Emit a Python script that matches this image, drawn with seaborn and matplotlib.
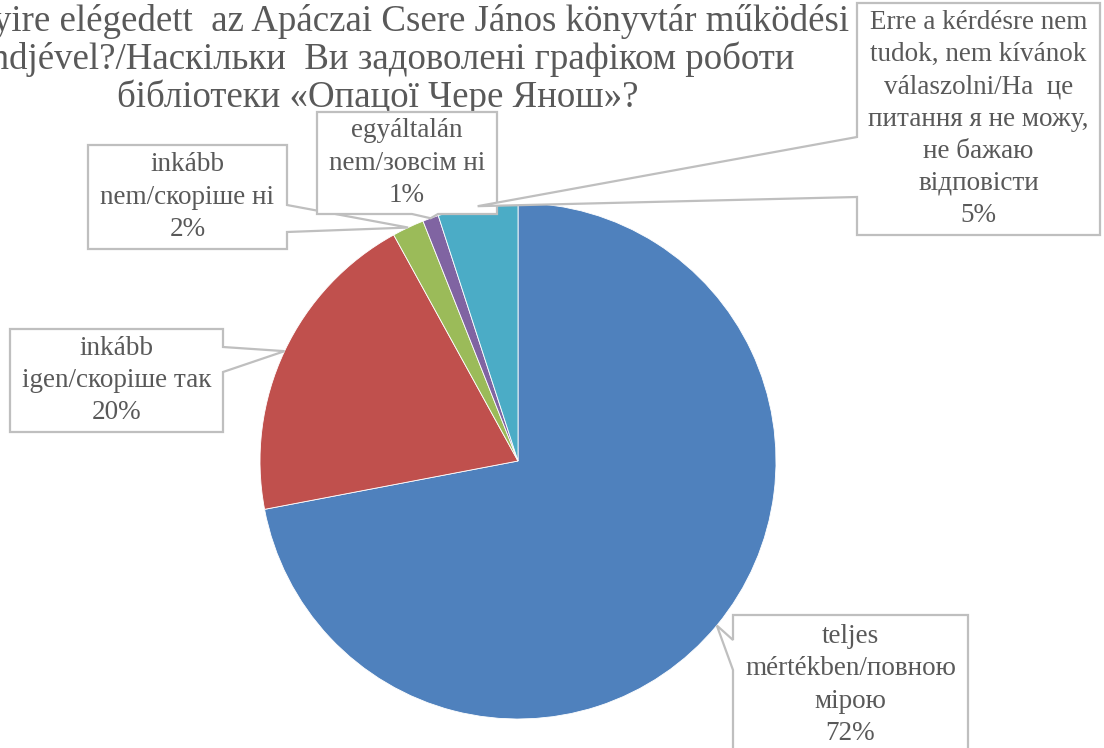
import numpy as np
import matplotlib
matplotlib.use("Agg")
import matplotlib.pyplot as plt
import matplotlib.patches as patches
import seaborn as sns

# chart content
title_lines = [
    "Mennyire elégedett  az Apáczai Csere János könyvtár működési",
    "rendjével?/Наскільки  Ви задоволені графіком роботи",
    "бібліотеки «Опацої Чере Янош»?",
]
answers = [
    "teljes\nmértékben/повною\nмірою",
    "inkább\nigen/скоріше так",
    "inkább\nnem/скоріше ні",
    "egyáltalán\nnem/зовсім ні",
    "Erre a kérdésre nem\ntudok, nem kívánok\nválaszolni/На  це\nпитання я не можу,\nне бажаю\nвідповісти",
]
shares = [72, 20, 2, 1, 5]
slice_colors = ["#4F81BD", "#C0504D", "#9BBB59", "#8064A2", "#4BACC6"]

W, H = 1104, 748
TEXT = "#595959"
EDGE = "#BFBFBF"

# callout layout in pixels from the top-left: box, side of the pointer, pointer base
callouts = [
    ((733, 615, 968, 755), "left", (640, 670)),
    ((10, 329, 223, 432), "right", (347, 372)),
    ((88, 145, 287, 249), "right", (205, 232)),
    ((317, 112, 497, 214), "bottom", (412, 438)),
    ((857, 3, 1100, 235), "left", (137, 197)),
]
title_baselines = [31, 69, 107]

sns.set_style("white")
plt.rcParams["font.family"] = ["Liberation Serif", "DejaVu Serif"]

fig = plt.figure(figsize=(W / 100, H / 100), dpi=100)

# pie: center (518, 461) px, radius 258 px
cx, cy, r = 518, 461, 258
ax = fig.add_axes([(cx - r) / W, (H - cy - r) / H, 2 * r / W, 2 * r / H])
ax.pie(shares, colors=sns.color_palette(slice_colors), startangle=90,
       counterclock=False, radius=1,
       wedgeprops=dict(edgecolor="white", linewidth=0.6))
ax.set_xlim(-1, 1)
ax.set_ylim(-1, 1)
ax.axis("off")

for i, line in enumerate(title_lines):
    fig.text(378 / W, 1 - title_baselines[i] / H, line, ha="center",
             va="baseline", fontsize=26.6, color=TEXT)


def to_fig(x, y):
    return (x / W, 1 - y / H)


to_frac = fig.transFigure.inverted()
fractions = np.array(shares) / sum(shares)
mids = np.cumsum(fractions) - fractions / 2

for i, (label, share) in enumerate(zip(answers, shares)):
    (x0, y0, x1, y1), side, (a, b) = callouts[i]
    th = 2 * np.pi * mids[i]
    tip = to_frac.transform(ax.transData.transform((np.sin(th), np.cos(th))))
    if side == "left":
        pts = [(x0, y0), (x1, y0), (x1, y1), (x0, y1), (x0, b), None, (x0, a)]
    elif side == "right":
        pts = [(x0, y0), (x1, y0), (x1, a), None, (x1, b), (x1, y1), (x0, y1)]
    else:
        pts = [(x0, y0), (x1, y0), (x1, y1), (b, y1), None, (a, y1), (x0, y1)]
    verts = [tuple(tip) if p is None else to_fig(*p) for p in pts]
    poly = patches.Polygon(verts, closed=True, transform=fig.transFigure,
                           facecolor="white", edgecolor=EDGE, linewidth=1.6,
                           zorder=10 + 2 * i)
    fig.add_artist(poly)
    fig.text((x0 + x1) / 2 / W, 1 - (y0 + y1) / 2 / H, f"{label}\n{share}%",
             ha="center", va="center", multialignment="center",
             fontsize=19.5, color=TEXT, linespacing=1.38, zorder=11 + 2 * i)

fig.savefig("out.png", dpi=100)
